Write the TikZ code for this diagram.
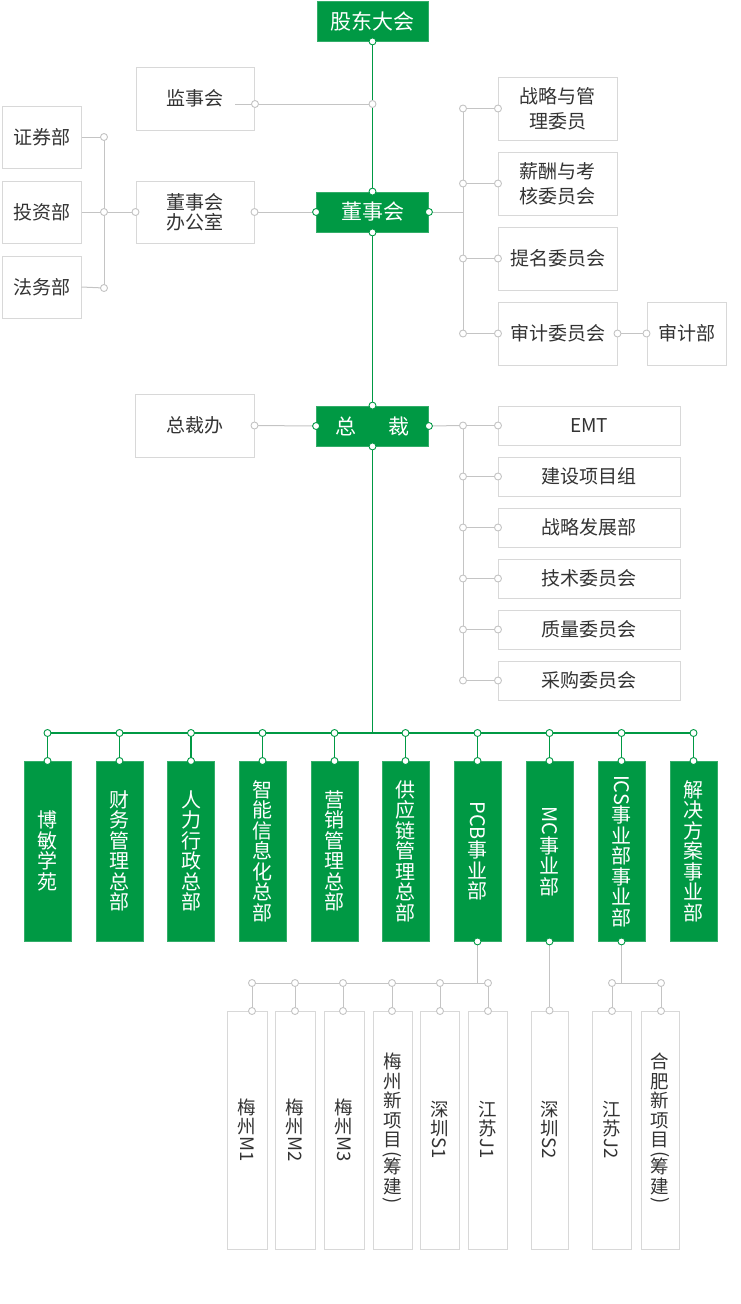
\documentclass[tikz,border=0pt]{standalone}
\usepackage{fontspec}
\setmainfont{Noto Sans CJK SC}
\usepackage{graphicx}
\definecolor{gr}{RGB}{0,153,68}
\definecolor{lc}{RGB}{196,196,196}
\definecolor{bc}{RGB}{216,216,216}
\definecolor{tc}{RGB}{51,51,51}
\newcommand\vlat[1]{\rotatebox[origin=c]{-90}{#1}}
\begin{document}
\begin{tikzpicture}[x=1pt,y=-1pt,
  gbox/.style={draw=gr!80!white, line width=0.8pt, fill=gr, text=white, inner sep=0pt, align=center, font=\fontsize{21}{24}\selectfont},
  vgbox/.style={gbox, minimum width=47pt, minimum height=180pt, font=\fontsize{20}{20.5}\selectfont},
  wbox/.style={draw=bc, line width=1pt, fill=white, text=tc, inner sep=0pt, align=center, font=\fontsize{19}{21}\selectfont},
  vwbox/.style={wbox, minimum height=238pt, font=\fontsize{18.5}{19.5}\selectfont},
  gdot/.style={circle, draw=gr, fill=white, line width=0.9pt, minimum size=7pt, inner sep=0pt},
  wdot/.style={circle, draw=lc, fill=white, line width=0.9pt, minimum size=7pt, inner sep=0pt},
  gline/.style={draw=gr, line width=1.2pt},
  wline/.style={draw=lc, line width=1pt}
]
\useasboundingbox (0,0) rectangle (741,1304);

% ---------- boxes ----------
\node[gbox, minimum width=111pt, minimum height=40pt] (gd) at (372.5,21) {股东大会};
\node[wbox, minimum width=118pt, minimum height=63pt] (js) at (195,98.5) {监事会};
\node[wbox, minimum width=79pt, minimum height=62pt] (zq) at (41.5,137) {证券部};
\node[wbox, minimum width=79pt, minimum height=62pt] (tz) at (41.5,212) {投资部};
\node[wbox, minimum width=79pt, minimum height=62pt] (fw) at (41.5,287) {法务部};
\node[wbox, minimum width=118pt, minimum height=62pt, font=\fontsize{19}{20}\selectfont] (bgs) at (195,212) {董事会\\办公室};
\node[gbox, minimum width=112pt, minimum height=40pt] (dsh) at (372.5,212) {董事会};
\node[wbox, minimum width=119pt, minimum height=63pt, font=\fontsize{19}{25}\selectfont] (c1) at (557.5,108.5) {战略与管\\理委员};
\node[wbox, minimum width=119pt, minimum height=63pt, font=\fontsize{19}{25}\selectfont] (c2) at (557.5,183.5) {薪酬与考\\核委员会};
\node[wbox, minimum width=119pt, minimum height=63pt] (c3) at (557.5,258.5) {提名委员会};
\node[wbox, minimum width=119pt, minimum height=63pt] (c4) at (557.5,333.5) {审计委员会};
\node[wbox, minimum width=79pt, minimum height=63pt] (sjb) at (686.5,333.5) {审计部};
\node[gbox, minimum width=112pt, minimum height=40pt] (zc) at (372.5,426) {总\hspace{33pt}裁};
\node[wbox, minimum width=119pt, minimum height=63pt] (zcb) at (194.5,425.5) {总裁办};
\node[wbox, minimum width=182pt, minimum height=39pt] (e1) at (589,425.5) {EMT};
\node[wbox, minimum width=182pt, minimum height=39pt] (e2) at (589,476.5) {建设项目组};
\node[wbox, minimum width=182pt, minimum height=39pt] (e3) at (589,527.5) {战略发展部};
\node[wbox, minimum width=182pt, minimum height=39pt] (e4) at (589,578.5) {技术委员会};
\node[wbox, minimum width=182pt, minimum height=39pt] (e5) at (589,629.5) {质量委员会};
\node[wbox, minimum width=182pt, minimum height=39pt] (e6) at (589,680.5) {采购委员会};

% business units
\node[vgbox] (u1) at (47.5,851) {博\\敏\\学\\苑};
\node[vgbox] (u2) at (119.5,851) {财\\务\\管\\理\\总\\部};
\node[vgbox] (u3) at (191,851) {人\\力\\行\\政\\总\\部};
\node[vgbox] (u4) at (262.5,851) {智\\能\\信\\息\\化\\总\\部};
\node[vgbox] (u5) at (334.5,851) {营\\销\\管\\理\\总\\部};
\node[vgbox] (u6) at (405.5,851) {供\\应\\链\\管\\理\\总\\部};
\node[vgbox] (u7) at (477.5,851) {\vlat{PCB}\\事\\业\\部};
\node[vgbox] (u8) at (549.5,851) {\vlat{MC}\\事\\业\\部};
\node[vgbox] (u9) at (621.5,851) {\vlat{ICS}\\事\\业\\部\\事\\业\\部};
\node[vgbox] (u10) at (693.5,851) {解\\决\\方\\案\\事\\业\\部};

% plants
\node[vwbox, minimum width=40pt] (m1) at (247,1130) {梅\\州\\\vlat{M1}};
\node[vwbox, minimum width=40pt] (m2) at (295,1130) {梅\\州\\\vlat{M2}};
\node[vwbox, minimum width=40pt] (m3) at (344,1130) {梅\\州\\\vlat{M3}};
\node[vwbox, minimum width=39pt] (m4) at (392.5,1130) {梅\\州\\新\\项\\目\\[-6pt]\vlat{(}\\[-6pt]筹\\建\\[-6pt]\vlat{)}};
\node[vwbox, minimum width=39pt] (m5) at (439.5,1130) {深\\圳\\\vlat{S1}};
\node[vwbox, minimum width=39pt] (m6) at (487.5,1130) {江\\苏\\\vlat{J1}};
\node[vwbox, minimum width=37pt] (s2) at (549.5,1130) {深\\圳\\\vlat{S2}};
\node[vwbox, minimum width=39pt] (j2) at (611.5,1130) {江\\苏\\\vlat{J2}};
\node[vwbox, minimum width=38pt] (hf) at (660,1130) {合\\肥\\新\\项\\目\\[-6pt]\vlat{(}\\[-6pt]筹\\建\\[-6pt]\vlat{)}};

% ---------- junction coordinates ----------
\coordinate (jsin) at (235,104);
\coordinate (rj) at (463,212);
\coordinate (bj) at (372.5,733);
\coordinate (pj) at (477.5,983);
\coordinate (ij) at (621.5,983);

% ---------- connectors (below dots) ----------
\path[gline] (372.5,41) -- (372.5,192);
\path[gline] (372.5,232) -- (372.5,406);
\path[gline] (372.5,446) -- (bj);
\path[gline] (48,733) -- (693.5,733);
\foreach \x in {47.5,119.5,191,262.5,334.5,405.5,477.5,549.5,621.5,693.5}
  \path[gline] (\x,733) -- (\x,761);

\path[wline] (jsin) -- (372.5,104);
\path[wline] (zq.east) -- (104,137);
\path[wline] (tz.east) -- (104,212);
\path[wline] (fw.east) -- (104,288);
\path[wline] (104,137) -- (104,288);
\path[wline] (104,212) -- (bgs.west);
\path[wline] (bgs.east) -- (dsh.west);
\path[wline] (dsh.east) -- (rj);
\path[wline] (463,108.5) -- (463,333.5);
\foreach \y in {108.5,183.5,258.5,333.5}
  \path[wline] (463,\y) -- (498,\y);
\path[wline] (c4.east) -- (sjb.west);
\path[wline] (zcb.east) -- (zc.west);
\path[wline] (zc.east) -- (463,425.5);
\path[wline] (463,425.5) -- (463,680.5);
\foreach \y in {425.5,476.5,527.5,578.5,629.5,680.5}
  \path[wline] (463,\y) -- (498,\y);
\path[wline] (u7.south) -- (pj);
\path[wline] (252,983) -- (488,983);
\foreach \x in {252,295,343,392,440,488}
  \path[wline] (\x,983) -- (\x,1011);
\path[wline] (u8.south) -- (s2.north);
\path[wline] (u9.south) -- (ij);
\path[wline] (612,983) -- (661,983);
\path[wline] (612,983) -- (612,1011);
\path[wline] (661,983) -- (661,1011);

% ---------- dots ----------
\node[gdot] (d-gd) at (gd.south) {};
\node[wdot] (d-jsm) at (372.5,104) {};
\node[wdot] (d-js) at (255,104) {};
\node[gdot] (d-dsn) at (dsh.north) {};
\node[gdot] (d-dss) at (dsh.south) {};
\node[gdot] (d-dsw) at (dsh.west) {};
\node[gdot] (d-dse) at (dsh.east) {};
\node[wdot] (d-l1) at (104,137) {};
\node[wdot] (d-l2) at (104,212) {};
\node[wdot] (d-l3) at (104,288) {};
\node[wdot] (d-bgw) at (bgs.west) {};
\node[wdot] (d-bge) at (bgs.east) {};
\foreach \y [count=\i] in {108.5,183.5,258.5,333.5} {
  \node[wdot] (d-r\i) at (463,\y) {};
  \node[wdot] (d-c\i) at (498,\y) {};
}
\node[wdot] (d-c4e) at (c4.east) {};
\node[wdot] (d-sjb) at (sjb.west) {};
\node[gdot] (d-zcn) at (zc.north) {};
\node[gdot] (d-zcs) at (zc.south) {};
\node[gdot] (d-zcw) at (zc.west) {};
\node[gdot] (d-zce) at (zc.east) {};
\node[wdot] (d-zcb) at (zcb.east) {};
\foreach \y [count=\i] in {425.5,476.5,527.5,578.5,629.5,680.5} {
  \node[wdot] (d-eb\i) at (463,\y) {};
  \node[wdot] (d-e\i) at (498,\y) {};
}
\foreach \x [count=\i] in {47.5,119.5,191,262.5,334.5,405.5,477.5,549.5,621.5,693.5} {
  \node[gdot] (d-b\i) at (\x,733) {};
  \node[gdot] (d-u\i) at (\x,761) {};
}
\node[gdot] (d-u7s) at (u7.south) {};
\node[gdot] (d-u8s) at (u8.south) {};
\node[gdot] (d-u9s) at (u9.south) {};
\foreach \x [count=\i] in {252,295,343,392,440,488} {
  \node[wdot] (d-p\i) at (\x,983) {};
  \node[wdot] (d-m\i) at (\x,1011) {};
}
\node[wdot] (d-s2) at (s2.north) {};
\node[wdot] (d-i1) at (612,983) {};
\node[wdot] (d-i2) at (661,983) {};
\node[wdot] (d-j2) at (612,1011) {};
\node[wdot] (d-hf) at (661,1011) {};
\end{tikzpicture}
\end{document}
